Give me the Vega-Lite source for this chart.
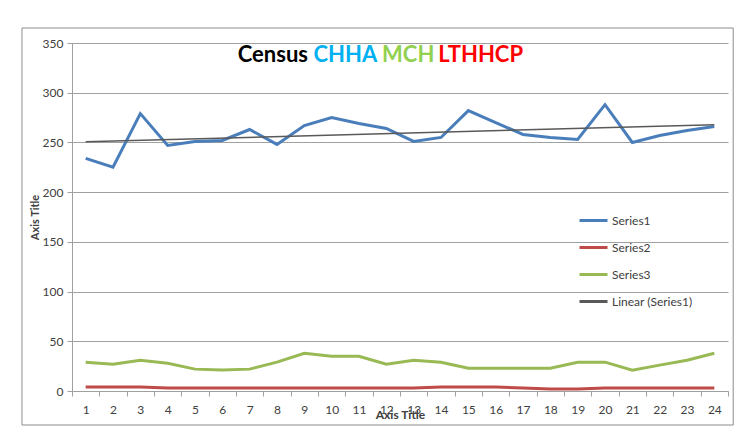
{
  "$schema": "https://vega.github.io/schema/vega-lite/v6.json",
  "width": 656,
  "height": 348,
  "autosize": {"type": "none"},
  "padding": {"left": 72, "top": 43, "right": 23, "bottom": 55},
  "background": "white",
  "config": {"view": {"stroke": null}, "font": "Lato"},
  "data": {
    "values": [
      {"x": 1, "Series1": 234, "Series2": 4, "Series3": 29},
      {"x": 2, "Series1": 225, "Series2": 4, "Series3": 27},
      {"x": 3, "Series1": 279, "Series2": 4, "Series3": 31},
      {"x": 4, "Series1": 247, "Series2": 3, "Series3": 28},
      {"x": 5, "Series1": 251, "Series2": 3, "Series3": 22},
      {"x": 6, "Series1": 252, "Series2": 3, "Series3": 21},
      {"x": 7, "Series1": 263, "Series2": 3, "Series3": 22},
      {"x": 8, "Series1": 248, "Series2": 3, "Series3": 29},
      {"x": 9, "Series1": 267, "Series2": 3, "Series3": 38},
      {"x": 10, "Series1": 275, "Series2": 3, "Series3": 35},
      {"x": 11, "Series1": 269, "Series2": 3, "Series3": 35},
      {"x": 12, "Series1": 264, "Series2": 3, "Series3": 27},
      {"x": 13, "Series1": 251, "Series2": 3, "Series3": 31},
      {"x": 14, "Series1": 255, "Series2": 4, "Series3": 29},
      {"x": 15, "Series1": 282, "Series2": 4, "Series3": 23},
      {"x": 16, "Series1": 270, "Series2": 4, "Series3": 23},
      {"x": 17, "Series1": 258, "Series2": 3, "Series3": 23},
      {"x": 18, "Series1": 255, "Series2": 2, "Series3": 23},
      {"x": 19, "Series1": 253, "Series2": 2, "Series3": 29},
      {"x": 20, "Series1": 288, "Series2": 3, "Series3": 29},
      {"x": 21, "Series1": 250, "Series2": 3, "Series3": 21},
      {"x": 22, "Series1": 257, "Series2": 3, "Series3": 26},
      {"x": 23, "Series1": 262, "Series2": 3, "Series3": 31},
      {"x": 24, "Series1": 266, "Series2": 3, "Series3": 38}
    ]
  },
  "layer": [
    {
      "transform": [{"fold": ["Series1", "Series2", "Series3"], "as": ["series", "val"]}],
      "mark": {"type": "line", "strokeWidth": 3},
      "encoding": {
        "x": {
          "field": "x", "type": "quantitative", "title": "Axis Title",
          "scale": {"domain": [0.5, 24.5], "nice": false, "zero": false},
          "axis": {
            "values": [0.5, 1, 1.5, 2, 2.5, 3, 3.5, 4, 4.5, 5, 5.5, 6, 6.5, 7, 7.5, 8, 8.5, 9, 9.5, 10, 10.5, 11, 11.5, 12, 12.5, 13, 13.5, 14, 14.5, 15, 15.5, 16, 16.5, 17, 17.5, 18, 18.5, 19, 19.5, 20, 20.5, 21, 21.5, 22, 22.5, 23, 23.5, 24, 24.5],
            "tickCount": 100,
            "labelExpr": "datum.value % 1 === 0 ? format(datum.value, 'd') : ''",
            "tickOpacity": {"condition": {"test": "datum.value % 1 !== 0", "value": 1}, "value": 0},
            "grid": false,
            "tickSize": 5,
            "tickColor": "#a0a0a0",
            "domainColor": "#a0a0a0",
            "labelFontSize": 12,
            "labelColor": "#404040",
            "labelPadding": 8,
            "labelOverlap": false,
            "labelFlush": false,
            "labelBound": false,
            "titleFontSize": 12,
            "titleFontWeight": "bold",
            "titleColor": "#404040",
            "titlePadding": -6
          }
        },
        "y": {
          "field": "val", "type": "quantitative", "title": "Axis Title",
          "scale": {"domain": [0, 350], "nice": false},
          "axis": {
            "values": [0, 50, 100, 150, 200, 250, 300, 350],
            "grid": true,
            "gridColor": "#a0a0a0",
            "domainColor": "#a0a0a0",
            "tickColor": "#a0a0a0",
            "tickSize": 5,
            "labelFontSize": 12,
            "labelColor": "#404040",
            "labelPadding": 4,
            "titleFontSize": 11,
            "titleFontWeight": "bold",
            "titleColor": "#404040",
            "titlePadding": 2
          }
        },
        "color": {
          "field": "series", "type": "nominal",
          "scale": {"domain": ["Series1", "Series2", "Series3", "Linear (Series1)"], "range": ["#4A7EBB", "#BE4B48", "#98B954", "#595959"]},
          "legend": {
            "orient": "none", "legendX": 506, "legendY": 162, "title": null, "padding": 0,
            "symbolType": "stroke", "symbolSize": 784, "symbolStrokeWidth": 3,
            "rowPadding": 5, "labelFontSize": 12, "labelColor": "#404040", "labelOffset": 3
          }
        }
      }
    },
    {
      "transform": [{"regression": "Series1", "on": "x"}],
      "mark": {"type": "line", "strokeWidth": 1.5},
      "encoding": {
        "x": {"field": "x", "type": "quantitative", "title": "Axis Title"},
        "y": {"field": "Series1", "type": "quantitative", "title": "Axis Title"},
        "color": {"datum": "Linear (Series1)"}
      }
    },
    {
      "data": {"values": [{}]},
      "mark": {"type": "text", "fontSize": 22, "fontWeight": "bold", "color": "#000000", "align": "center", "baseline": "middle"},
      "encoding": {
        "x": {"datum": 7.85, "type": "quantitative"},
        "y": {"datum": 338, "type": "quantitative"},
        "text": {"value": "Census"}
      }
    },
    {
      "data": {"values": [{}]},
      "mark": {"type": "text", "fontSize": 22, "fontWeight": "bold", "color": "#00B0F0", "align": "center", "baseline": "middle"},
      "encoding": {
        "x": {"datum": 10.5, "type": "quantitative"},
        "y": {"datum": 338, "type": "quantitative"},
        "text": {"value": "CHHA"}
      }
    },
    {
      "data": {"values": [{}]},
      "mark": {"type": "text", "fontSize": 22, "fontWeight": "bold", "color": "#92D050", "align": "center", "baseline": "middle"},
      "encoding": {
        "x": {"datum": 12.8, "type": "quantitative"},
        "y": {"datum": 338, "type": "quantitative"},
        "text": {"value": "MCH"}
      }
    },
    {
      "data": {"values": [{}]},
      "mark": {"type": "text", "fontSize": 22, "fontWeight": "bold", "color": "#FF0000", "align": "center", "baseline": "middle"},
      "encoding": {
        "x": {"datum": 15.45, "type": "quantitative"},
        "y": {"datum": 338, "type": "quantitative"},
        "text": {"value": "LTHHCP"}
      }
    },
    {
      "data": {"values": [{}]},
      "mark": {"type": "rect", "fill": null, "stroke": "#8c8c8c", "strokeWidth": 1, "clip": false},
      "encoding": {
        "x": {"datum": -1.33, "type": "quantitative"},
        "x2": {"datum": 24.69},
        "y": {"datum": 365.1, "type": "quantitative"},
        "y2": {"datum": -34.2}
      }
    }
  ]
}
